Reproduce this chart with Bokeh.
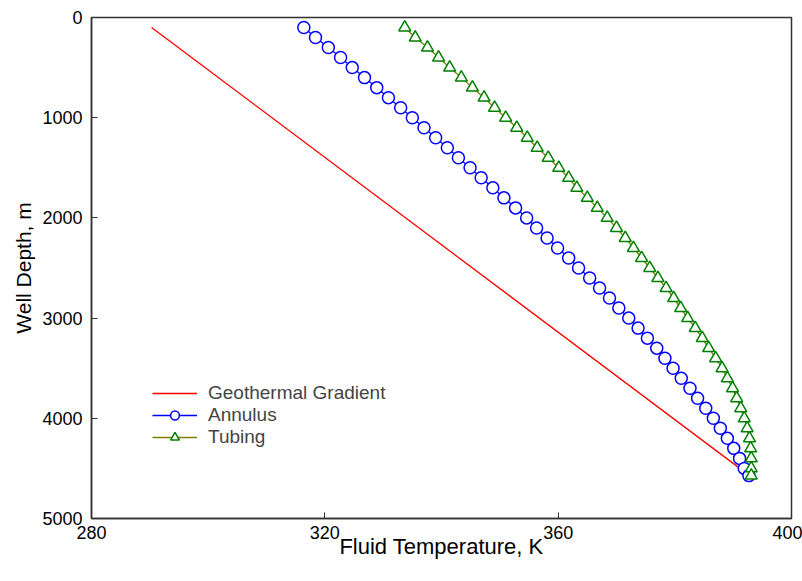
from bokeh.plotting import figure
from bokeh.models import Range1d, FixedTicker, Legend, LegendItem
from bokeh.embed import file_html
from bokeh.resources import INLINE

# ---- data ----
geo_depth = [100, 4572]
geo_temp = [290.3, 392.8]

ann_depth = list(range(100, 4600, 100)) + [4572]
ann_temp = [316.4, 318.4, 320.6, 322.7, 324.7, 326.8, 328.9, 330.9, 333.0, 335.0,
            337.0, 339.0, 341.0, 342.9, 344.9, 346.8, 348.8, 350.7, 352.7, 354.6,
            356.3, 358.1, 359.9, 361.8, 363.5, 365.4, 367.1, 368.8, 370.4, 372.1,
            373.7, 375.3, 376.9, 378.3, 379.7, 381.1, 382.6, 383.9, 385.3, 386.6,
            387.8, 389.0, 390.1, 391.1, 391.9, 392.7]
ann_depth = ann_depth[:len(ann_temp)]

tub_depth = list(range(100, 4600, 100)) + [4572]
tub_temp = [333.7, 335.5, 337.6, 339.5, 341.4, 343.4, 345.3, 347.3, 349.1, 351.0,
            352.9, 354.7, 356.4, 358.3, 360.1, 361.8, 363.2, 365.0, 366.7, 368.4,
            370.0, 371.5, 372.9, 374.3, 375.7, 377.1, 378.5, 379.8, 381.0, 382.2,
            383.5, 384.7, 385.8, 387.0, 388.1, 389.0, 389.9, 390.6, 391.3, 391.9,
            392.4, 392.8, 393.0, 393.1, 393.1, 393.1]
tub_depth = tub_depth[:len(tub_temp)]

x_ticks = [280, 320, 360, 400]
y_ticks = [0, 1000, 2000, 3000, 4000, 5000]

FONT = "Liberation Sans"
AXC = "#333333"

p = figure(width=802, height=581, output_backend="svg", toolbar_location=None,
           x_range=Range1d(280, 400), y_range=Range1d(5000, 0),
           min_border_left=91, min_border_right=11, min_border_top=17, min_border_bottom=63)
p.grid.visible = False
p.outline_line_color = AXC
p.outline_line_width = 1.5

for ax in (p.xaxis[0], p.yaxis[0]):
    ax.axis_line_color = AXC
    ax.axis_line_width = 1.5
    ax.major_tick_in = 6
    ax.major_tick_out = 0
    ax.major_tick_line_color = AXC
    ax.minor_tick_line_color = None
    ax.major_label_text_font = FONT
    ax.major_label_text_font_size = "18px"
    ax.major_label_text_color = "black"
    ax.axis_label_text_font = FONT
    ax.axis_label_text_font_style = "normal"
    ax.axis_label_text_color = "black"

p.xaxis.axis_label_text_font_size = "22px"
p.yaxis.axis_label_text_font_size = "21px"
p.xaxis.ticker = FixedTicker(ticks=x_ticks)
p.yaxis.ticker = FixedTicker(ticks=y_ticks)
p.xaxis.axis_label = "Fluid Temperature, K"
p.yaxis.axis_label = "Well Depth, m"
p.xaxis.major_label_standoff = 7
p.yaxis.major_label_standoff = 9
p.xaxis.axis_label_standoff = -8
p.yaxis.axis_label_standoff = 4

r_geo = p.line(geo_temp, geo_depth, line_color="#FF0000", line_width=1.3)

r_ann_l = p.line(ann_temp, ann_depth, line_color="#0000FF", line_width=1.3)
r_ann_m = p.scatter(ann_temp, ann_depth, marker="circle", size=12,
                    line_color="#0000FF", line_width=1.5, fill_color="white")

r_tub_l = p.line(tub_temp, tub_depth, line_color="#808000", line_width=1.3)
r_tub_m = p.scatter(tub_temp, tub_depth, marker="triangle", size=12,
                    line_color="#008000", line_width=1.5, fill_color="white")

legend = Legend(items=[
    LegendItem(label="Geothermal Gradient", renderers=[r_geo]),
    LegendItem(label="Annulus", renderers=[r_ann_l, r_ann_m]),
    LegendItem(label="Tubing", renderers=[r_tub_l, r_tub_m]),
], location=(61, 70))
legend.border_line_color = None
legend.background_fill_alpha = 0
legend.label_text_font = FONT
legend.label_text_font_size = "19px"
legend.glyph_width = 45
legend.glyph_height = 22
legend.label_height = 22
legend.spacing = 0
legend.padding = 4
legend.margin = 0
legend.label_standoff = 11
p.add_layout(legend, "center")

open("out.html", "w").write(file_html(p, INLINE))
